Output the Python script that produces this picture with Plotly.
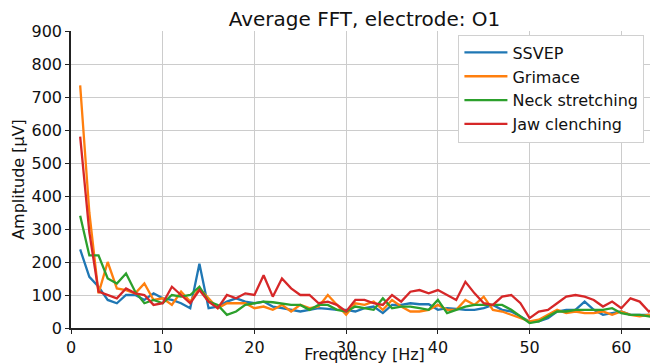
import plotly.graph_objects as go

freqs = list(range(1, 65))

ssvep = [238, 155, 125, 85, 75, 100, 100, 85, 105, 90, 85, 75, 60, 195, 60, 65,
         80, 90, 80, 75, 80, 65, 60, 55, 50, 55, 60, 58, 55, 55, 50, 60,
         65, 45, 70, 70, 75, 72, 72, 55, 60, 58, 55, 55, 60, 70, 55, 50,
         35, 20, 20, 30, 50, 55, 55, 80, 55, 40, 45, 50, 40, 40, 40, 35]

grimace = [735, 350, 105, 200, 120, 115, 105, 135, 85, 90, 70, 110, 80, 120, 90, 60,
           75, 75, 75, 60, 65, 55, 70, 50, 70, 60, 65, 100, 70, 40, 75, 70,
           80, 55, 85, 65, 50, 50, 55, 70, 55, 55, 85, 70, 95, 55, 50, 40,
           30, 20, 25, 40, 55, 45, 50, 45, 45, 50, 40, 50, 40, 35, 40, 30]

neck = [340, 220, 220, 150, 135, 165, 110, 75, 85, 75, 100, 95, 100, 125, 80, 70,
        40, 50, 70, 75, 80, 78, 75, 70, 70, 55, 70, 70, 55, 50, 65, 60,
        55, 90, 60, 65, 65, 60, 55, 85, 45, 55, 65, 70, 70, 72, 70, 55,
        35, 15, 20, 35, 50, 50, 55, 55, 55, 55, 60, 45, 40, 40, 35, 30]

jaw = [580, 290, 110, 100, 90, 120, 105, 100, 70, 75, 125, 100, 75, 115, 80, 60,
       100, 90, 105, 100, 160, 95, 150, 120, 100, 100, 75, 80, 70, 50, 85, 85,
       75, 70, 100, 80, 110, 115, 105, 115, 100, 85, 140, 105, 75, 70, 95, 100,
       75, 30, 50, 55, 75, 95, 100, 95, 85, 65, 80, 60, 90, 80, 50, 65]

series = [
    ("SSVEP", ssvep, "#1f77b4"),
    ("Grimace", grimace, "#ff7f0e"),
    ("Neck stretching", neck, "#2ca02c"),
    ("Jaw clenching", jaw, "#d62728"),
]

FONT = "DejaVu Sans"

fig = go.Figure()
for name, vals, color in series:
    fig.add_trace(go.Scatter(x=freqs, y=vals, mode="lines", name=name,
                             line=dict(color=color, width=2.3)))

# The page body adds an 8px offset, so the figure is 650x356.
fig.update_layout(
    width=650, height=356,
    margin=dict(l=63, r=0, t=23, b=36, autoexpand=False),
    paper_bgcolor="white", plot_bgcolor="white",
    font=dict(family=FONT, size=16, color="#111"),
    title=dict(text="Average FFT, electrode: O1", x=0.5, xref="paper", xanchor="center",
               y=0.968, yref="container", yanchor="middle", font=dict(size=20, color="#111")),
    showlegend=True,
    legend=dict(x=0.66, y=0.988, xanchor="left", yanchor="top",
                bgcolor="white", bordercolor="#d0d0d0", borderwidth=1,
                itemwidth=43, font=dict(size=16, color="#111"), tracegroupgap=0),
    xaxis=dict(range=[0, 64], dtick=10, tick0=0, showgrid=True, gridcolor="#cccccc",
               gridwidth=1, showline=True, linecolor="#222", linewidth=1.5,
               ticks="outside", ticklen=4, tickcolor="#222", zeroline=False,
               automargin=False,
               title=dict(text="Frequency [Hz]", standoff=8, font=dict(size=16))),
    yaxis=dict(range=[0, 900], dtick=100, tick0=0, showgrid=True, gridcolor="#cccccc",
               gridwidth=1, showline=True, linecolor="#222", linewidth=1.5,
               ticks="outside", ticklen=4, tickcolor="#222", zeroline=False,
               automargin=False,
               title=dict(text="Amplitude [μV]", standoff=3, font=dict(size=16))),
)

fig.write_html("out.html")
